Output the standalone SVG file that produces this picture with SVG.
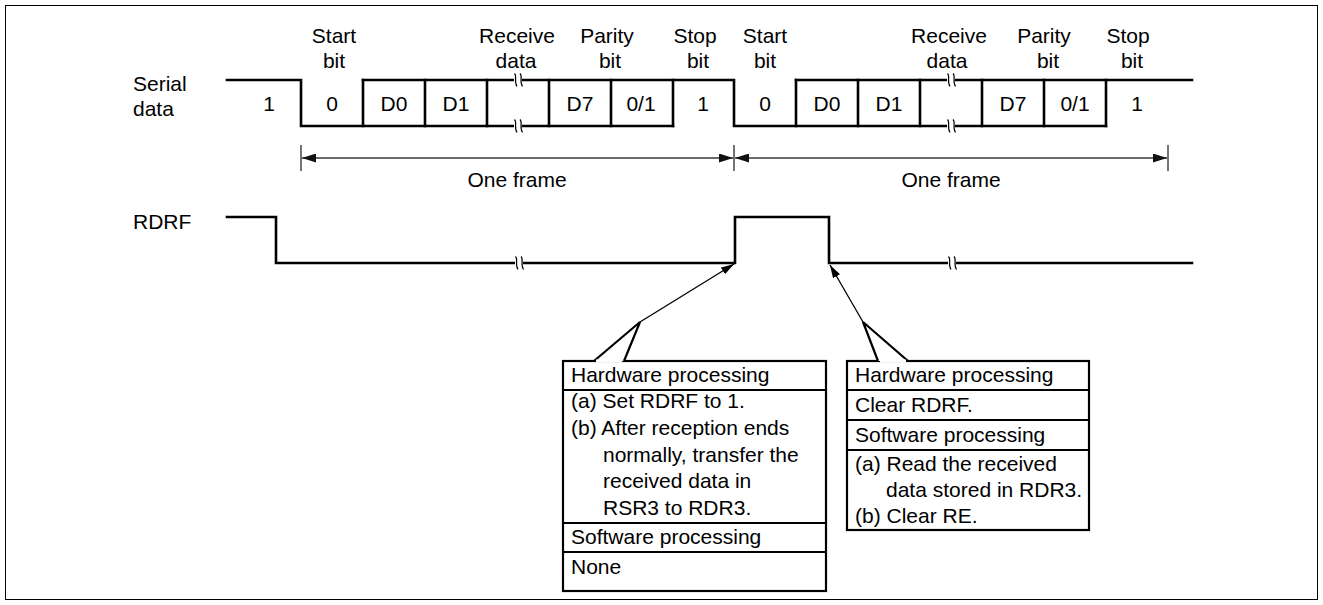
<svg xmlns="http://www.w3.org/2000/svg" xmlns:xlink="http://www.w3.org/1999/xlink" width="1323" height="605" viewBox="0 0 1323 605">
  <style>
    text { font-family: "Liberation Sans", Arial, sans-serif; font-size: 21px; fill: #000; }
    .mid { text-anchor: middle; }
    .sig { fill: none; stroke: #000; stroke-width: 2.6; stroke-linecap: square; stroke-linejoin: miter; }
    .dim { fill: none; stroke: #3a3a3a; stroke-width: 1.4; }
    .lead { fill: none; stroke: #000; stroke-width: 1.3; }
    .box { fill: #fff; stroke: #000; stroke-width: 2.2; }
    .row { fill: none; stroke: #000; stroke-width: 2.2; }
  </style>
  <defs>
    <marker id="dimHead" viewBox="0 0 14 9" refX="14" refY="4.5" markerWidth="14" markerHeight="9" markerUnits="userSpaceOnUse" orient="auto-start-reverse">
      <path d="M0,0 L14,4.5 L0,9 z" fill="#111"/>
    </marker>
    <marker id="leadHead" viewBox="0 0 13 8" refX="13" refY="4" markerWidth="13" markerHeight="8" markerUnits="userSpaceOnUse" orient="auto">
      <path d="M0,0 L13,4 L0,8 z" fill="#000"/>
    </marker>
    <!-- time-axis break mark, centred on a signal rail -->
    <g id="brk">
      <rect x="-4" y="-2.5" width="8" height="5" fill="#fff"/>
      <path d="M-3.5,-6.5 C-0.5,-4 -4.5,1.5 -1,6.5 M2,-6.5 C5,-4 1,1.5 4.5,6.5" fill="none" stroke="#000" stroke-width="1.2"/>
    </g>
  </defs>

  <!-- outer frame -->
  <rect x="5.5" y="5.5" width="1312" height="594" fill="none" stroke="#000" stroke-width="1"/>

  <!-- signal names -->
  <g id="labels">
    <text x="133" y="91">Serial</text>
    <text x="133" y="116">data</text>
    <text x="133" y="229">RDRF</text>
  </g>

  <!-- field captions above the serial frame -->
  <g id="captions">
    <text class="mid" x="334" y="43">Start</text>
    <text class="mid" x="334" y="68">bit</text>
    <text class="mid" x="517" y="43">Receive</text>
    <text class="mid" x="516" y="68">data</text>
    <text class="mid" x="607" y="43">Parity</text>
    <text class="mid" x="610" y="68">bit</text>
    <text class="mid" x="695" y="43">Stop</text>
    <text class="mid" x="698" y="68">bit</text>
    <text class="mid" x="765" y="43">Start</text>
    <text class="mid" x="765" y="68">bit</text>
    <text class="mid" x="949" y="43">Receive</text>
    <text class="mid" x="947" y="68">data</text>
    <text class="mid" x="1044" y="43">Parity</text>
    <text class="mid" x="1048" y="68">bit</text>
    <text class="mid" x="1128" y="43">Stop</text>
    <text class="mid" x="1132" y="68">bit</text>
  </g>

  <!-- serial data waveform -->
  <g id="serial">
    <path class="sig" d="M227,80 H301 V126 H673 M363,80 H734 V126 H1106 M796,80 H1192"/>
    <path class="sig" d="M363,80 V126 M425,80 V126 M487,80 V126 M549,80 V126 M611,80 V126 M673,80 V126
                         M796,80 V126 M858,80 V126 M920,80 V126 M982,80 V126 M1044,80 V126 M1106,80 V126"/>
    <use xlink:href="#brk" x="518" y="80"/>
    <use xlink:href="#brk" x="518" y="126"/>
    <use xlink:href="#brk" x="951" y="80"/>
    <use xlink:href="#brk" x="951" y="126"/>
    <text class="mid" x="269" y="111">1</text>
    <text class="mid" x="332" y="111">0</text>
    <text class="mid" x="394" y="111">D0</text>
    <text class="mid" x="456" y="111">D1</text>
    <text class="mid" x="580" y="111">D7</text>
    <text class="mid" x="641" y="111">0/1</text>
    <text class="mid" x="703" y="111">1</text>
    <text class="mid" x="765" y="111">0</text>
    <text class="mid" x="827" y="111">D0</text>
    <text class="mid" x="889" y="111">D1</text>
    <text class="mid" x="1013" y="111">D7</text>
    <text class="mid" x="1075" y="111">0/1</text>
    <text class="mid" x="1137" y="111">1</text>
  </g>

  <!-- frame length dimensions -->
  <g id="frames">
    <path class="dim" d="M301,145 V171 M734,145 V171 M1168,145 V171"/>
    <line class="dim" x1="302" y1="158" x2="733" y2="158" marker-start="url(#dimHead)" marker-end="url(#dimHead)"/>
    <line class="dim" x1="735" y1="158" x2="1167" y2="158" marker-start="url(#dimHead)" marker-end="url(#dimHead)"/>
    <text class="mid" x="517" y="187">One frame</text>
    <text class="mid" x="951" y="187">One frame</text>
  </g>

  <!-- RDRF waveform -->
  <g id="rdrf">
    <path class="sig" d="M227,217 H276 V263 H735 V217 H829 V263 H1192"/>
    <use xlink:href="#brk" x="519" y="263"/>
    <use xlink:href="#brk" x="952" y="263"/>
  </g>

  <!-- callout leaders -->
  <g id="connectors">
    <line class="lead" x1="640" y1="322" x2="734" y2="264" marker-end="url(#leadHead)"/>
    <line class="lead" x1="863" y1="322" x2="830" y2="265" marker-end="url(#leadHead)"/>
  </g>

  <!-- processing at RDRF set -->
  <g id="note-set">
    <rect class="box" x="563" y="361" width="263" height="230"/>
    <path d="M594,361 L640,322 L624,361" fill="#fff" stroke="#000" stroke-width="2.2" stroke-linejoin="miter"/>
    <path d="M596,361 H622" stroke="#fff" stroke-width="3"/>
    <path class="row" d="M563,390 H826 M563,523 H826 M563,552 H826"/>
    <text x="571" y="382">Hardware processing</text>
    <text x="571" y="408">(a) Set RDRF to 1.</text>
    <text x="571" y="435">(b) After reception ends</text>
    <text x="603" y="462">normally, transfer the</text>
    <text x="603" y="488">received data in</text>
    <text x="603" y="515">RSR3 to RDR3.</text>
    <text x="571" y="544">Software processing</text>
    <text x="571" y="574">None</text>
  </g>

  <!-- processing at RDRF clear -->
  <g id="note-clear">
    <rect class="box" x="847" y="361" width="242" height="169"/>
    <path d="M878,361 L863,322 L908,361" fill="#fff" stroke="#000" stroke-width="2.2" stroke-linejoin="miter"/>
    <path d="M880,361 H906" stroke="#fff" stroke-width="3"/>
    <path class="row" d="M847,390 H1089 M847,420 H1089 M847,450 H1089"/>
    <text x="855" y="382">Hardware processing</text>
    <text x="855" y="412">Clear RDRF.</text>
    <text x="855" y="442">Software processing</text>
    <text x="855" y="471">(a) Read the received</text>
    <text x="886" y="497">data stored in RDR3.</text>
    <text x="855" y="523">(b) Clear RE.</text>
  </g>
</svg>
